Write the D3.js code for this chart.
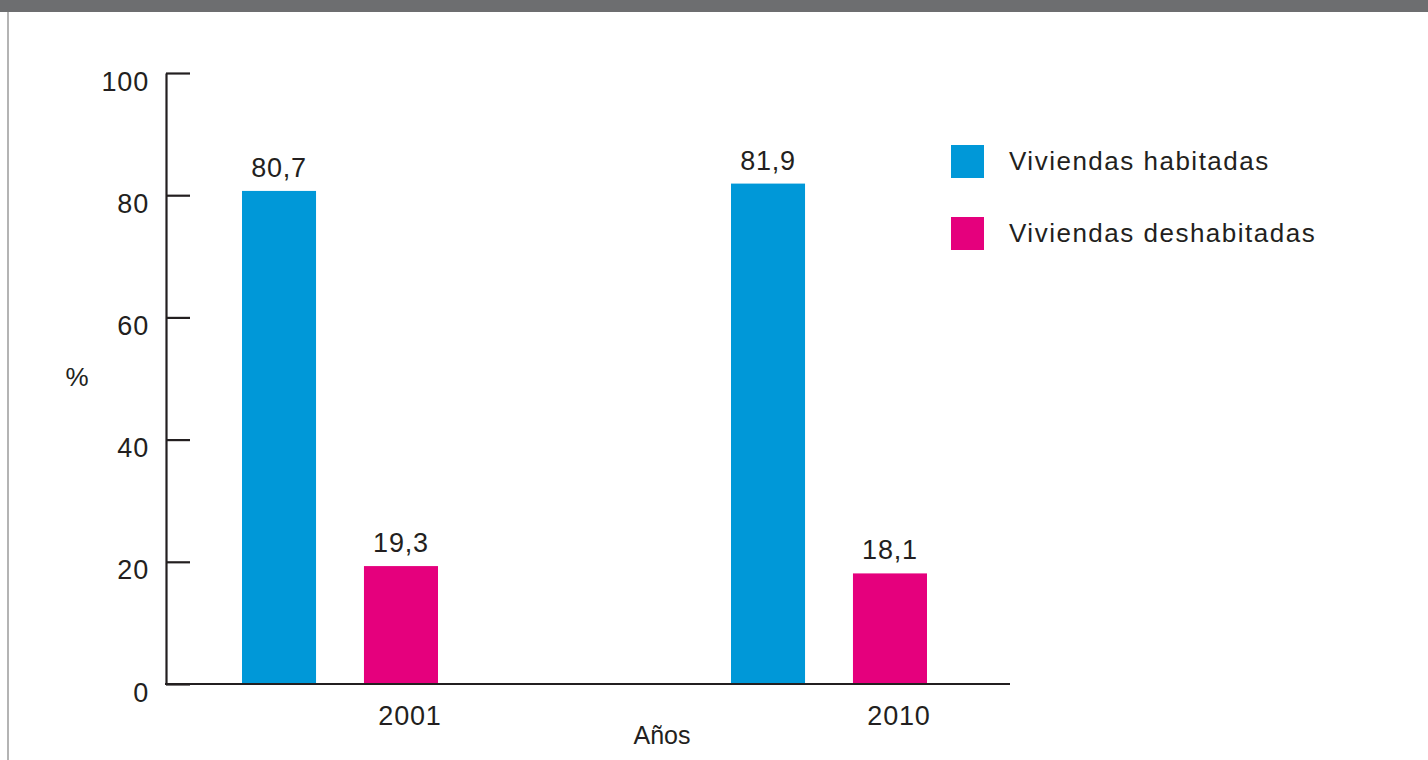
<!DOCTYPE html>
<html>
<head>
<meta charset="utf-8">
<script src="https://cdn.jsdelivr.net/npm/d3@7"></script>
<style>
  html, body { margin: 0; padding: 0; background: #fff; }
  svg { display: block; }
  text { font-family: "Liberation Sans", Arial, Helvetica, sans-serif; fill: #231f20; }
</style>
</head>
<body>
<svg id="chart" width="1428" height="760"></svg>
<script>
// ---- data ----
const years = ["2001", "2010"];
const seriesNames = ["Viviendas habitadas", "Viviendas deshabitadas"];
const habitadas = [80.7, 81.9];
const deshabitadas = [19.3, 18.1];
const yTicks = [0, 20, 40, 60, 80, 100];
const seriesColors = ["#0098d8", "#e5007d"];
const yAxisTitle = "%";
const xAxisTitle = "Años";

const seriesValues = [habitadas, deshabitadas];
const rows = years.map((yr, i) => ({
  year: yr,
  values: seriesNames.map((s, j) => ({ series: s, value: seriesValues[j][i] }))
}));

const svg = d3.select("#chart");
const W = 1428, H = 760;

// frame
svg.append("rect").attr("x", 0).attr("y", 0).attr("width", W).attr("height", 12).attr("fill", "#6d6e70");
svg.append("line").attr("x1", 8).attr("x2", 8).attr("y1", 12).attr("y2", H)
  .attr("stroke", "#9b9b9b").attr("stroke-width", 1.5);

// scales
const axisX = 166, axisRight = 1010;
const y = d3.scaleLinear().domain([0, 100]).range([684, 73]);
const x0 = d3.scalePoint().domain(years).range([340, 829]);
const x1 = d3.scaleBand().domain(seriesNames).range([-98, 98]).paddingInner(0.393).paddingOuter(0);
const color = d3.scaleOrdinal().domain(seriesNames).range(seriesColors);

// bars
const groups = svg.append("g").selectAll("g").data(rows).join("g")
  .attr("transform", d => `translate(${x0(d.year)},0)`);

groups.selectAll("rect").data(d => d.values).join("rect")
  .attr("x", d => x1(d.series))
  .attr("y", d => y(d.value))
  .attr("width", x1.bandwidth())
  .attr("height", d => y(0) - y(d.value))
  .attr("fill", d => color(d.series));

groups.selectAll("text.val").data(d => d.values).join("text")
  .attr("class", "val")
  .attr("x", d => x1(d.series) + x1.bandwidth() / 2)
  .attr("y", d => y(d.value) - 14)
  .attr("text-anchor", "middle")
  .style("font-size", "27px")
  .style("letter-spacing", "0.8px")
  .text(d => d3.format(".1f")(d.value).replace(".", ","));

// y axis
const yAxis = d3.axisLeft(y).tickValues(yTicks).tickSizeInner(-24).tickSizeOuter(0).tickPadding(17);
const gy = svg.append("g").attr("transform", `translate(${axisX},0)`).call(yAxis);
gy.select(".domain").attr("stroke", "#231f20").attr("stroke-width", 2.2);
gy.selectAll(".tick line").attr("stroke", "#231f20").attr("stroke-width", 2.2);
gy.selectAll(".tick text")
  .attr("dy", "17px")
  .style("font-size", "27px")
  .style("letter-spacing", "0.8px")
  .style("font-family", "'Liberation Sans', Arial, sans-serif")
  .attr("fill", "#231f20");

// x axis line
svg.append("line")
  .attr("x1", axisX - 1).attr("x2", axisRight)
  .attr("y1", y(0)).attr("y2", y(0))
  .attr("stroke", "#231f20").attr("stroke-width", 2.2);

// year labels
svg.append("g").selectAll("text").data(years).join("text")
  .attr("x", d => x0(d) + 70)
  .attr("y", 725)
  .attr("text-anchor", "middle")
  .style("font-size", "27px")
  .style("letter-spacing", "0.8px")
  .text(d => d);

// axis titles
svg.append("text").attr("x", 77).attr("y", 386).attr("text-anchor", "middle")
  .style("font-size", "26px").text(yAxisTitle);
svg.append("text").attr("x", 662).attr("y", 744).attr("text-anchor", "middle")
  .style("font-size", "25px").text(xAxisTitle);

// legend
const legend = svg.append("g").selectAll("g").data(seriesNames).join("g")
  .attr("transform", (d, i) => `translate(951,${145 + i * 72})`);
legend.append("rect").attr("width", 33).attr("height", 33).attr("fill", d => color(d));
legend.append("text").attr("x", 58).attr("y", 25)
  .style("font-size", "26px")
  .style("letter-spacing", "1.5px")
  .text(d => d);
</script>
</body>
</html>
